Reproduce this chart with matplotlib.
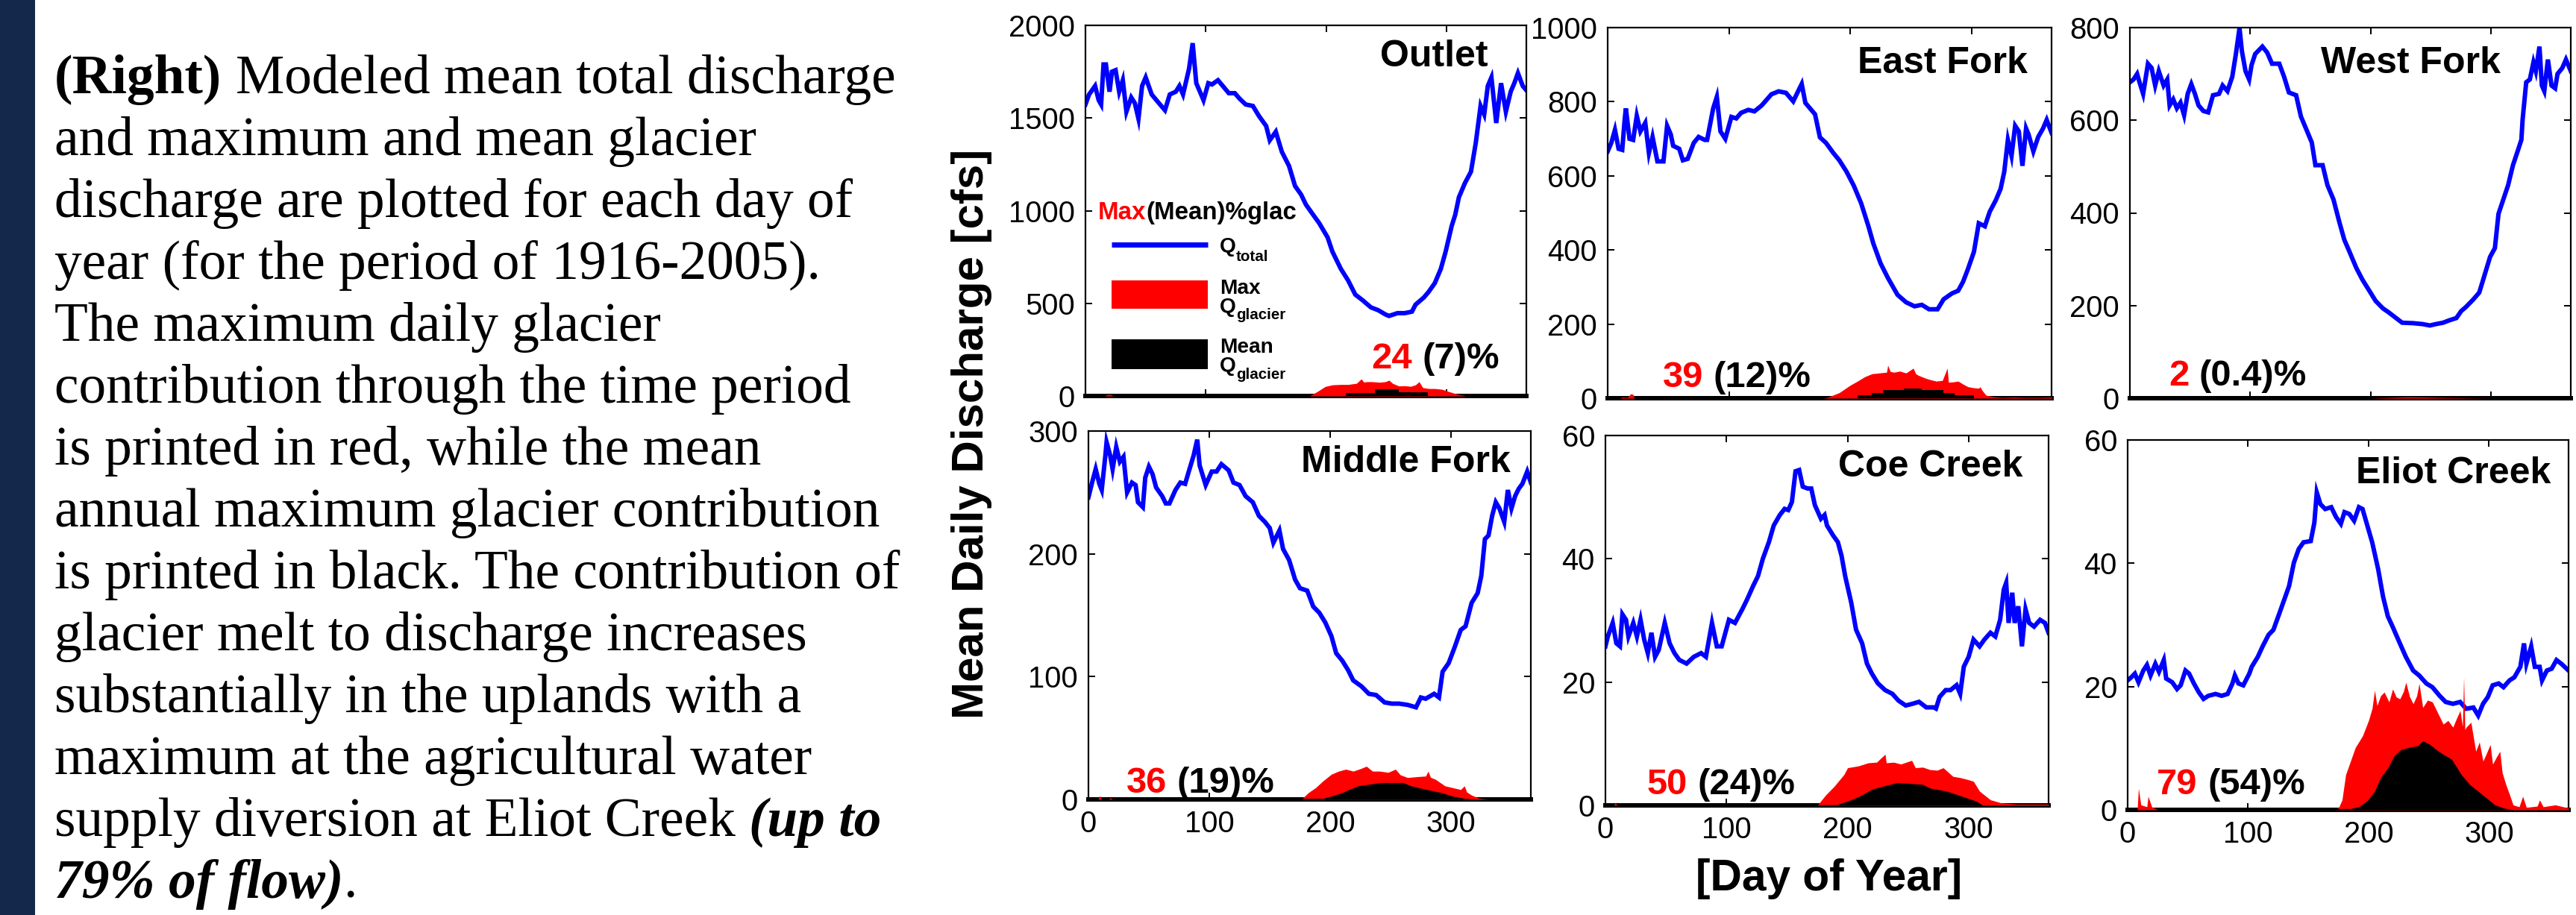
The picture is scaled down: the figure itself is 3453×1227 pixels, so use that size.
import matplotlib
matplotlib.use('Agg')
import matplotlib.pyplot as plt
from matplotlib.patches import Rectangle
from matplotlib.lines import Line2D
import numpy as np

plt.rcParams['font.family'] = ['Liberation Sans', 'DejaVu Sans']

# ---------------- data (day of year, cfs) ----------------
STATIONS = ['Outlet', 'East Fork', 'West Fork', 'Middle Fork', 'Coe Creek', 'Eliot Creek']
MAX_PCT = ['24', '39', '2', '36', '50', '79']
MEAN_PCT = ['(7)%', '(12)%', '(0.4)%', '(19)%', '(24)%', '(54)%']
YMAX = [2000, 1000, 800, 300, 60, 60]
YSTEP = [500, 200, 200, 100, 20, 20]
XTICKS = [0, 100, 200, 300]

OUTLET_Q = [(0,1573),(3,1627),(8,1673),(11,1596),(13,1573),(15,1789),(17,1789),(20,1642),(22,1750),(25,1758),
            (28,1642),(31,1704),(34,1534),(38,1611),(41,1580),(44,1496),(47,1673),(50,1719),(55,1627),(61,1580),
            (66,1542),(70,1627),(75,1642),(78,1673),(81,1627),(86,1766),(89,1904),(92,1688),(96,1627),(98,1596),
            (102,1688),(105,1681),(110,1704),(114,1673),(119,1634),(124,1634),(128,1604),(133,1573),(139,1565),(144,1511),
            (150,1457),(153,1380),(158,1426),(163,1318),(169,1241),(174,1133),(179,1087),(183,1033),(188,987),(194,933),
            (201,856),(205,779),(212,686),(218,624),(224,547),(230,517),(237,478),(243,463),(249,440),(252,432),
            (259,447),(265,447),(271,455),(274,493),(281,532),(285,563),(290,609),(295,686),(299,779),(304,917),
            (307,979),(310,1072),(315,1149),(320,1210),(324,1365),(328,1565),(331,1519),(334,1673),(337,1719),(341,1473),
            (345,1688),(349,1534),(353,1642),(356,1688),(359,1742),(363,1673),(366,1650)]
OUTLET_GMAX = [(0,0),(16,0),(18,8),(21,8),(23,0),(186,0),(193,26),(199,51),(205,60),(212,62),(218,62),(225,68),
               (229,92),(231,75),(234,77),(238,77),(244,74),(249,77),(252,85),(255,68),(260,54),(265,55),(270,52),
               (274,60),(277,77),(280,45),(285,40),(290,40),(296,36),(301,25),(306,15),(311,6),(316,0),(366,0)]
OUTLET_GMEAN = [(0,0),(216,15),(240,35),(260,20),(284,0),(366,0)]

EAST_Q = [(0,666),(3,689),(6,724),(9,673),(12,670),(14,751),(15,782),(18,700),(21,697),(24,762),
          (27,720),(31,743),(34,662),(37,705),(41,639),(46,639),(49,735),(52,712),(54,681),(59,673),
          (62,642),(66,646),(71,689),(75,705),(80,697),(82,697),(87,782),(90,813),(93,720),(97,700),
          (102,759),(106,755),(110,770),(116,778),(121,774),(127,790),(131,805),(135,820),(141,828),(147,824),
          (153,801),(157,828),(160,848),(163,797),(171,766),(175,704),(180,689),(186,662),(191,642),(197,611),
          (203,573),(209,526),(215,464),(219,418),(225,364),(231,325),(239,279),(246,259),(253,248),(259,252),
          (265,240),(272,240),(277,267),(284,283),(289,290),(293,314),(297,348),(302,395),(306,472),(311,464),
          (315,503),(320,534),(324,565),(327,611),(330,697),(333,654),(336,735),(339,720),(342,627),(345,728),
          (347,712),(351,666),(355,705),(359,728),(362,751),(366,716)]
EAST_GMAX = [(0,0),(10,0),(12,3),(16,2),(18,8),(19,12),(21,10),(22,0),(178,0),(181,2),(191,15),(200,35),
             (206,46),(212,58),(218,66),(224,68),(230,70),(231,89),(233,72),(236,70),(241,73),(246,68),(252,81),
             (254,66),(256,62),(262,54),(266,50),(271,46),(276,48),(280,81),(281,43),(285,44),(289,46),(293,38),
             (297,31),(302,28),(306,27),(307,31),(309,20),(312,8),(318,4),(325,2),(335,3),(345,2),(355,2),(366,3)]
EAST_GMEAN = [(0,0),(206,8),(218,14),(227,22),(244,27),(259,22),(277,14),(286,8),(302,0),(366,0)]

WEST_Q = [(0,682),(3,688),(6,700),(8,682),(11,657),(15,722),(18,713),(21,675),(24,706),(28,675),
          (31,688),(33,632),(36,645),(39,626),(42,638),(45,611),(48,657),(51,678),(54,657),(57,632),
          (61,620),(65,617),(69,654),(74,657),(77,675),(81,663),(85,694),(88,743),(91,799),(93,749),
          (96,706),(99,688),(101,719),(104,743),(110,759),(114,746),(118,722),(124,722),(128,694),(132,660),
          (138,654),(142,608),(147,577),(151,552),(154,503),(160,503),(164,460),(169,429),(174,379),(178,342),
          (182,318),(188,281),(193,256),(199,231),(204,210),(210,194),(215,185),(221,173),(226,163),(235,162),
          (243,160),(249,157),(254,160),(260,163),(265,168),(271,173),(275,188),(279,197),(285,213),(290,228),
          (294,262),(299,305),(303,324),(306,398),(310,429),(314,460),(318,503),(322,534),(325,558),(326,601),
          (329,682),(332,688),(335,725),(337,706),(340,759),(342,675),(344,663),(347,731),(350,675),(353,669),
          (355,700),(359,713),(362,731),(366,706)]
WEST_GMAX = [(0,0),(200,0),(215,1.5),(230,3),(245,2.5),(260,1.5),(280,0.5),(300,0),(366,0)]
WEST_GMEAN = [(0,0),(220,0.5),(250,0.8),(270,0.3),(290,0),(366,0)]

MIDDLE_Q = [(0,246),(3,258),(6,269),(9,257),(11,252),(14,280),(15,291),(18,280),(20,269),(23,287),
            (26,275),(29,279),(32,250),(36,258),(39,256),(41,242),(45,238),(47,262),(50,271),(53,265),
            (56,254),(61,247),(64,241),(67,241),(72,252),(76,258),(80,257),(83,267),(87,280),(90,293),
            (92,272),(97,256),(102,267),(106,267),(110,273),(116,268),(120,258),(125,256),(130,247),(136,242),
            (141,231),(146,226),(150,221),(153,209),(158,219),(161,204),(166,195),(171,179),(175,172),(181,170),
            (186,157),(191,152),(196,144),(201,133),(205,119),(210,113),(215,105),(219,97),(226,92),(232,86),
            (238,85),(245,79),(251,78),(257,78),(264,77),(271,75),(275,83),(279,82),(286,86),(290,83),
            (293,104),(298,111),(303,124),(308,138),(312,141),(317,160),(322,168),(325,182),(328,212),(331,215),
            (334,231),(337,242),(340,237),(344,226),(347,252),(350,237),(353,247),(356,253),(359,257),(363,267),
            (366,258)]
MIDDLE_GMAX = [(0,0),(8,0),(9,3),(11,0),(17,0),(18,1.5),(20,0),(176,0),(182,5.5),(188,9.6),(194,15),(201,20.5),
               (207,23),(213,24.6),(219,23),(225,25),(230,27),(235,23),(241,23),(248,22),(254,24.6),(258,20),
               (264,17.8),(272,18.5),(279,19),(281,23),(283,18),(287,16.4),(295,11),(308,8),(311,11),(313,6),
               (317,3.5),(323,1),(330,0),(366,0)]
MIDDLE_GMEAN = [(0,0),(194,0.8),(201,2.7),(210,5.5),(216,8.2),(223,11),(232,12.3),(242,13.7),(260,13.7),
                (267,11),(279,8.2),(292,5.5),(301,2.7),(311,0.8),(320,0),(366,0)]

COE_Q = [(0,25.8),(2,27.4),(6,29.6),(9,26.3),(12,25.8),(14,31.0),(17,30.1),(19,27.4),(23,29.6),(26,27.4),
         (29,30.1),(32,26.9),(35,24.7),(38,28.0),(41,24.1),(44,25.2),(49,29.6),(53,26.3),(57,24.7),(61,23.6),
         (67,23.0),(73,24.1),(79,24.7),(83,24.1),(86,27.4),(88,29.6),(92,25.8),(96,25.8),(102,30.1),(107,29.6),
         (113,31.8),(117,33.4),(122,35.6),(126,37.2),(130,40.0),(135,42.7),(139,45.4),(144,47.1),(148,48.1),(151,47.9),
         (154,49.2),(157,54.2),(160,54.4),(163,51.7),(167,51.4),(170,51.4),(173,48.7),(178,46.5),(181,47.1),(183,45.4),
         (188,43.8),(192,42.7),(195,40.5),(198,37.2),(203,32.9),(207,28.5),(212,26.3),(216,23.0),(220,21.4),(225,19.8),
         (231,18.7),(237,18.1),(242,17.0),(248,16.2),(254,16.5),(259,16.8),(265,15.9),(271,15.9),(273,15.7),(276,17.6),
         (281,18.7),(285,18.7),(290,19.5),(293,18.1),(296,22.5),(300,24.1),(304,26.9),(309,25.8),(313,26.9),(318,28.0),
         (322,27.4),(326,30.1),(329,35.0),(331,36.1),(333,29.6),(336,34.5),(338,29.6),(341,32.3),(344,25.8),(347,31.8),
         (350,29.6),(354,29.0),(359,30.1),(363,29.6),(366,28.0)]
COE_GMAX = [(0,0),(7,0),(8,0.4),(10,0),(175,0),(182,1.7),(189,3.1),(197,5.0),(200,6.1),(209,6.4),(217,6.9),
            (224,7.0),(231,8.3),(232,6.9),(238,7.0),(244,6.7),(253,7.3),(256,6.1),(262,6.2),(268,5.8),(274,5.7),
            (279,6.1),(287,4.7),(293,4.5),(299,4.2),(304,3.9),(309,2.3),(318,0.9),(327,0.4),(340,0.2),(366,0.2)]
COE_GMEAN = [(0,0),(191,0.1),(203,0.9),(212,1.7),(220,2.6),(229,3.1),(241,3.7),(262,3.4),(268,2.8),(282,2.3),
             (291,1.7),(306,0.7),(312,0),(366,0)]

ELIOT_Q = [(0,21.0),(3,21.5),(6,22.1),(9,20.7),(13,22.6),(16,23.5),(19,21.8),(23,23.7),(26,22.4),(30,24.3),
           (32,21.3),(37,20.7),(41,19.6),(44,20.2),(48,22.6),(51,22.1),(55,20.5),(59,19.1),(63,18.0),(67,18.5),
           (73,18.8),(78,18.5),(83,18.8),(87,20.5),(89,21.8),(92,20.5),(96,20.2),(101,22.1),(103,23.2),(108,24.8),
           (112,26.5),(117,28.4),(121,29.2),(126,31.9),(130,34.1),(134,36.3),(138,40.1),(142,42.3),(146,43.4),(152,43.6),
           (155,46.6),(157,51.5),(160,49.6),(164,48.8),(169,49.1),(173,47.5),(177,46.4),(180,48.3),(184,48.0),(188,46.9),
           (192,49.1),(195,48.8),(199,46.1),(203,43.4),(208,39.0),(212,34.6),(216,31.4),(220,29.7),(226,27.0),(231,24.8),
           (237,22.6),(242,21.8),(248,20.5),(253,19.9),(259,18.5),(264,17.5),(270,17.2),(276,17.5),(281,16.4),(287,16.6),
           (291,15.3),(295,17.2),(299,18.3),(303,20.2),(308,20.5),(312,19.9),(317,21.0),(321,21.5),(326,23.2),(329,27.0),
           (331,23.7),(335,26.5),(338,23.2),(342,23.2),(344,21.0),(348,22.6),(352,22.9),(356,24.3),(360,23.7),(366,22.6)]
ELIOT_GMAX = [(0,0),(8,0),(9,3.5),(11,0.8),(16,0.5),(17,2.2),(20,0.5),(25,0),(172,0),(175,0.3),(178,1.6),(181,5.7),
              (185,7.9),(189,10.1),(195,12),(200,14.5),(203,16.5),(205,19.4),(207,16.9),(210,18.5),(213,19.1),(217,17.5),
              (220,19.6),(223,18.3),(226,18),(229,19.2),(231,20.7),(234,18.4),(237,17.2),(240,18.5),(242,20.5),(245,16.6),
              (249,17.8),(253,17.5),(258,15.5),(262,13.9),(266,14.5),(270,13.4),(273,14.8),(276,16.1),(278,13.5),(279,21.5),
              (280,13),(281,13.4),(285,14.2),(289,9.5),(292,11),(295,7.9),(298,9.2),(301,10.6),(303,7.4),(306,8.5),
              (309,9.5),(311,6),(314,4.1),(317,2.5),(320,0.8),(325,0.5),(328,2.2),(331,0.4),(340,0.6),(342,1.6),
              (345,0.5),(355,0.8),(366,0.3)]
ELIOT_GMEAN = [(0,0),(185,0.2),(192,0.5),(199,1.5),(205,3),(210,5.2),(216,6.8),(221,8.7),(227,9.8),(235,10.2),
               (241,10.4),(245,11.2),(251,10.6),(256,9.8),(262,9.0),(269,8.2),(277,5.7),(284,4.1),(291,3.0),(298,1.9),
               (305,0.8),(312,0.3),(320,0),(366,0)]

Q_TOTAL = [OUTLET_Q, EAST_Q, WEST_Q, MIDDLE_Q, COE_Q, ELIOT_Q]
Q_GMAX = [OUTLET_GMAX, EAST_GMAX, WEST_GMAX, MIDDLE_GMAX, COE_GMAX, ELIOT_GMAX]
Q_GMEAN = [OUTLET_GMEAN, EAST_GMEAN, WEST_GMEAN, MIDDLE_GMEAN, COE_GMEAN, ELIOT_GMEAN]

PARAGRAPH = [
    [("(Right)", "bold"), ("Modeled mean total discharge", "normal")],
    [("and maximum and mean glacier", "normal")],
    [("discharge are plotted for each day of", "normal")],
    [("year (for the period of 1916-2005).", "normal")],
    [("The maximum daily glacier", "normal")],
    [("contribution through the time period", "normal")],
    [("is printed in red, while the mean", "normal")],
    [("annual maximum glacier contribution", "normal")],
    [("is printed in black. The contribution of", "normal")],
    [("glacier melt to discharge increases", "normal")],
    [("substantially in the uplands with a", "normal")],
    [("maximum at the agricultural water", "normal")],
    [("supply diversion at Eliot Creek", "normal"), ("(up to", "bolditalic")],
    [("79% of flow)", "bolditalic"), (".", "normal_nogap")],
]

# ---------------- layout helpers (pixels) ----------------
W, H, DPI = 3453, 1227, 100
fig = plt.figure(figsize=(W / DPI, H / DPI), dpi=DPI)
fig.patch.set_facecolor('white')
renderer = fig.canvas.get_renderer()


def fx(px):
    return px / W


def fy(py):
    return 1.0 - py / H


def pt(px):
    return px * 72.0 / DPI


def put(x, y, s, size_px, color='black', weight='normal', style='normal',
        family=None, ha='left', va='baseline', **kw):
    t = fig.text(fx(x), fy(y), s, fontsize=pt(size_px), color=color,
                 fontweight=weight, fontstyle=style, ha=ha, va=va, **kw)
    if family is not None:
        t.set_fontfamily(family)
    return t


def wpx(t):
    return t.get_window_extent(renderer).width


# navy side bar
fig.add_artist(Rectangle((0, 0), 47 / W, 1, transform=fig.transFigure,
                         facecolor='#14284b', edgecolor='none'))

# ---------------- left paragraph ----------------
SERIF = ['Liberation Serif', 'DejaVu Serif']
tmp = put(0, 600, "is printed in black. The contribution of", 100, family=SERIF)
fit = 100 * 1133.0 / wpx(tmp)
tmp.remove()
space = 0.25 * fit
for i, runs in enumerate(PARAGRAPH):
    x = 73
    y = 125 + 83.0 * i
    for j, (s, kind) in enumerate(runs):
        if j > 0 and kind != "normal_nogap":
            x += space
        weight = 'bold' if 'bold' in kind else 'normal'
        style = 'italic' if 'italic' in kind else 'normal'
        t = put(x, y, s, fit, weight=weight, style=style, family=SERIF)
        x += wpx(t)

# ---------------- axes ----------------
BOXES = [(1455, 34, 2046, 531), (2155, 37, 2750, 534), (2855, 37, 3446, 534),
         (1459, 578, 2052, 1072), (2152, 584, 2746, 1080), (2852, 590, 3443, 1086)]
TITLE_POS = [(1850, 89), (2490, 98), (3111, 98), (1744, 633), (2464, 639), (3158, 648)]
PCT_POS = [(1838, 494), (2229, 519), (2907, 517), (1510, 1063), (2208, 1065), (2891, 1065)]
MEAN_STEP = [True, True, True, False, False, False]

for i in range(6):
    L, T, R, B = BOXES[i]
    ax = fig.add_axes([fx(L), fy(B), (R - L) / W, (B - T) / H])
    d, q = zip(*Q_TOTAL[i])
    ax.plot(d, q, color='#0000ff', lw=pt(6), zorder=2, solid_joinstyle='miter')
    dr, r = zip(*Q_GMAX[i])
    ax.fill_between(dr, 0, r, color='#ff0000', lw=0, zorder=3)
    db, b = zip(*Q_GMEAN[i])
    if MEAN_STEP[i]:
        ax.fill_between(db, 0, b, step='post', color='black', lw=0, zorder=4)
    else:
        ax.fill_between(db, 0, b, color='black', lw=0, zorder=4)
    ax.set_xlim(0, 366)
    ax.set_ylim(0, YMAX[i])
    ax.set_xticks(XTICKS)
    ax.set_yticks(np.arange(0, YMAX[i] + 1, YSTEP[i]))
    ax.tick_params(direction='in', length=pt(9), width=pt(2), top=True, right=True,
                   labelsize=pt(40), pad=pt(14), labelbottom=(i >= 3), colors='black')
    for s in ['left', 'right', 'top']:
        ax.spines[s].set_linewidth(pt(2.2))
    ax.spines['bottom'].set_linewidth(pt(6))
    ax.set_facecolor('white')

    tx, ty = TITLE_POS[i]
    put(tx, ty, STATIONS[i], 50, weight='bold')
    px_, py_ = PCT_POS[i]
    t = put(px_, py_, MAX_PCT[i], 49, color='#ff0000', weight='bold')
    put(px_ + wpx(t) + 0.278 * 49, py_, MEAN_PCT[i], 49, weight='bold')

# ---------------- legend in Outlet panel ----------------
t = put(1472, 294, "Max", 33, color='#ff0000', weight='bold')
put(1472 + wpx(t), 294, "(Mean)%glac", 33, weight='bold')
fig.add_artist(Line2D([fx(1490), fx(1619)], [fy(328), fy(328)], color='#0000ff',
                      lw=pt(7), transform=fig.transFigure, solid_capstyle='butt'))
fig.add_artist(Rectangle((fx(1490), fy(414)), 129 / W, 38 / H, transform=fig.transFigure,
                         facecolor='#ff0000', edgecolor='none'))
fig.add_artist(Rectangle((fx(1490), fy(495)), 129 / W, 40 / H, transform=fig.transFigure,
                         facecolor='black', edgecolor='none'))
put(1635, 338, "Q", 28, weight='bold')
put(1657, 350, "total", 20.5, weight='bold')
put(1635, 394, "Max", 28, weight='bold')
put(1635, 419, "Q", 28, weight='bold')
put(1657, 428, "glacier", 20.5, weight='bold')
put(1635, 473, "Mean", 28, weight='bold')
put(1635, 498, "Q", 28, weight='bold')
put(1657, 508, "glacier", 20.5, weight='bold')

# ---------------- shared axis labels ----------------
put(1302, 582, "Mean Daily Discharge [cfs]", 60, weight='bold', rotation=90,
    ha='center', va='center')
put(2452, 1194, "[Day of Year]", 58.7, weight='bold', ha='center', va='baseline')

fig.savefig('out.png', dpi=DPI)
